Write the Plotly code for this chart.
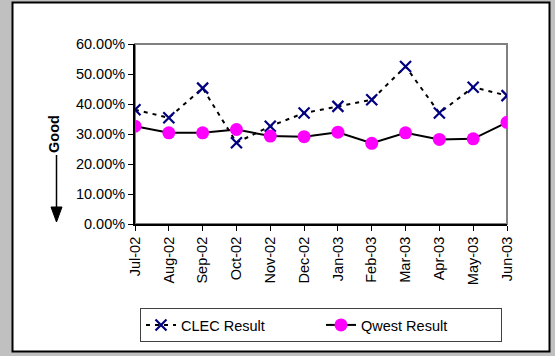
import plotly.graph_objects as go

months = ["Jul-02", "Aug-02", "Sep-02", "Oct-02", "Nov-02", "Dec-02",
          "Jan-03", "Feb-03", "Mar-03", "Apr-03", "May-03", "Jun-03"]
clec = [38.1, 35.4, 45.3, 27.1, 32.6, 37.0, 39.2, 41.4, 52.5, 37.0, 45.6, 42.8]
qwest = [32.6, 30.4, 30.4, 31.5, 29.3, 29.1, 30.6, 26.9, 30.4, 28.2, 28.4, 33.9]
y_ticks = [0, 10, 20, 30, 40, 50, 60]
y_tick_labels = ["0.00%", "10.00%", "20.00%", "30.00%", "40.00%", "50.00%", "60.00%"]

W, H = 555, 356
L, R, T, B = 135, 507, 44, 224
FS = 14.5


def px(x):
    return (x - L) / (R - L)


def py(y):
    return (B - y) / (B - T)


fig = go.Figure()
fig.add_trace(go.Scatter(
    x=list(range(len(months))), y=clec, name="CLEC Result", mode="lines+markers",
    line=dict(color="black", width=2, dash="4px,5px"),
    marker=dict(symbol="x-thin-open", size=11, color="#000080",
                line=dict(color="#000080", width=2.2)),
))
fig.add_trace(go.Scatter(
    x=list(range(len(months))), y=qwest, name="Qwest Result", mode="lines+markers",
    line=dict(color="black", width=2),
    marker=dict(symbol="circle", size=13, color="#ff00ff"),
))

shapes = [
    dict(type="rect", xref="paper", yref="paper", x0=px(12.5), x1=px(549.5), y0=py(351.5), y1=py(2.5),
         line=dict(color="black", width=2), fillcolor="white", layer="below"),
    dict(type="rect", xref="paper", yref="paper", x0=0, x1=1, y0=0, y1=1,
         line=dict(color="#808080", width=2), layer="below"),
    dict(type="line", xref="paper", yref="paper", x0=px(56.5), x1=px(56.5), y0=py(155), y1=py(210),
         line=dict(color="black", width=1.5)),
    dict(type="path", xref="paper", yref="paper",
         path=f"M {px(51)} {py(207)} L {px(62)} {py(207)} L {px(56.5)} {py(222)} Z",
         fillcolor="black", line=dict(color="black", width=1)),
]

fig.update_layout(
    width=W, height=H,
    margin=dict(l=L, r=W - R, t=T, b=H - B, pad=0, autoexpand=False),
    paper_bgcolor="#c0c0c0", plot_bgcolor="white",
    font=dict(family="Liberation Sans, Arial", size=FS, color="black"),
    showlegend=True,
    legend=dict(orientation="h", x=0.5, xanchor="center", y=py(308), yanchor="top",
                bordercolor="#404040", borderwidth=1, bgcolor="white",
                font=dict(size=FS), entrywidth=135, entrywidthmode="pixels",
                tracegroupgap=0),
    shapes=shapes,
    annotations=[dict(text="<b>Good</b>", xref="paper", yref="paper", x=px(54), y=py(134),
                      xanchor="center", yanchor="middle",
                      textangle=-90, showarrow=False, font=dict(size=FS))],
)
fig.update_xaxes(
    range=[0, len(months) - 1], tickmode="array", tickvals=list(range(len(months))),
    ticktext=months, tickangle=-90, ticks="outside", ticklen=5, tickcolor="black",
    showline=True, linecolor="black", linewidth=2, showgrid=False, zeroline=False,
    automargin=False,
)
fig.update_yaxes(
    range=[0, 60], tickmode="array", tickvals=y_ticks, ticktext=y_tick_labels,
    ticks="outside", ticklen=5, tickcolor="black", showline=True, linecolor="black",
    linewidth=2, showgrid=False, zeroline=False, automargin=False,
)
fig.write_html("out.html", post_script="document.body.style.margin='0';",
               config={"displayModeBar": False})
